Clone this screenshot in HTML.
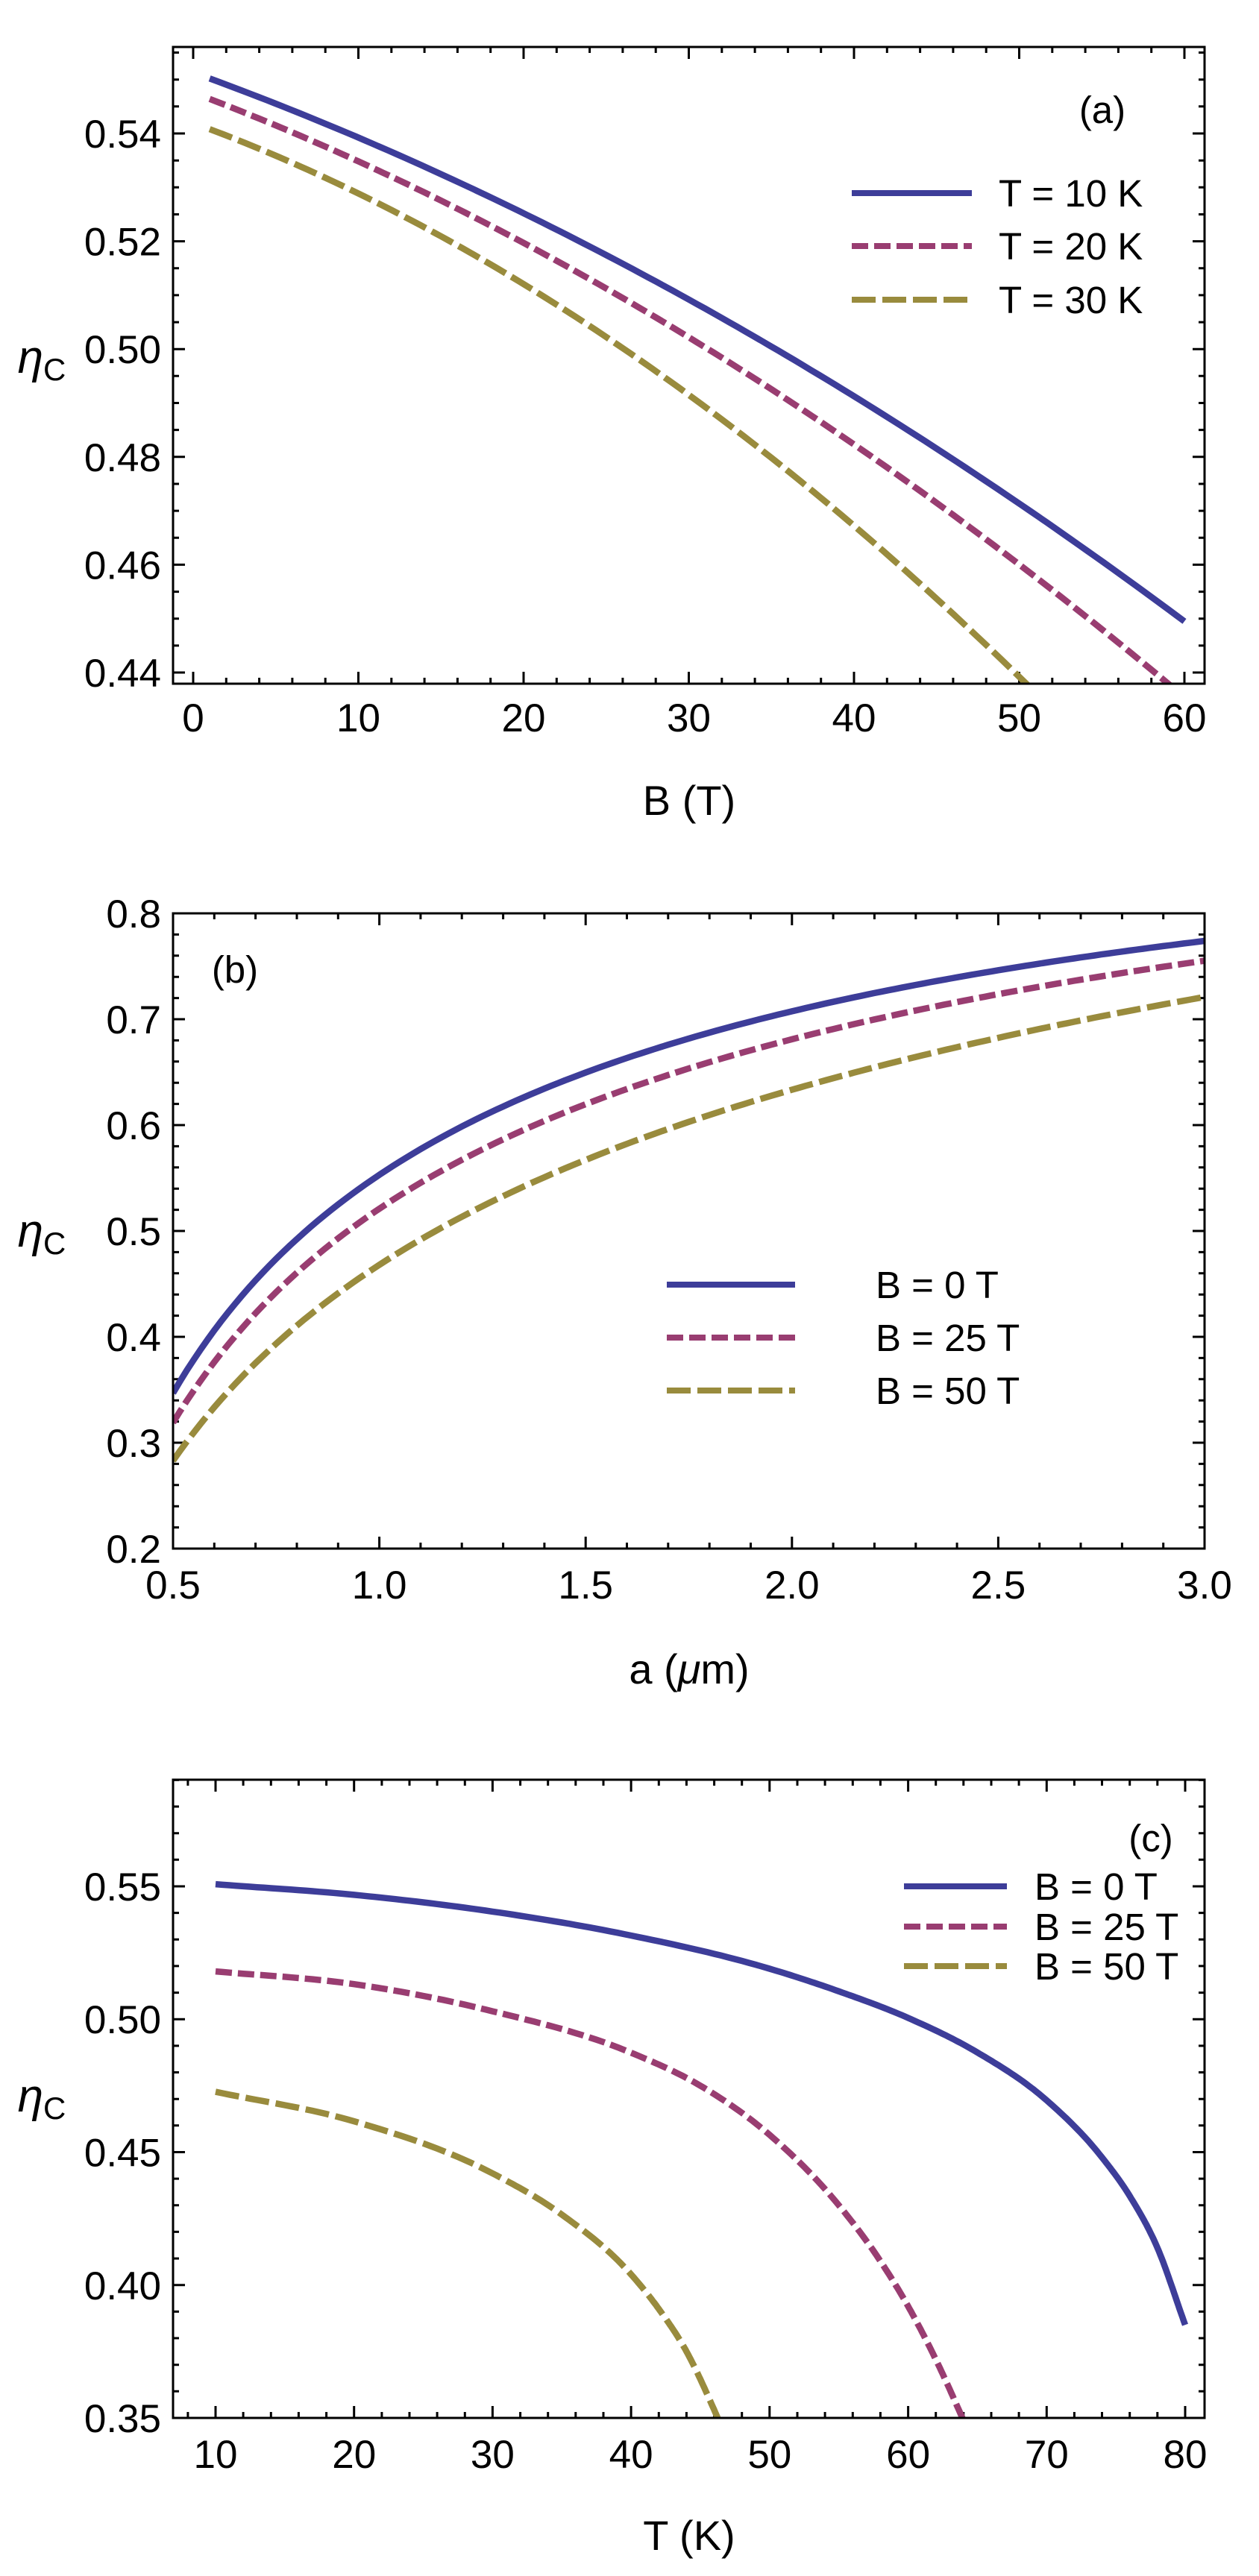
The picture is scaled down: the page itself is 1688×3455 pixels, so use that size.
<!DOCTYPE html>
<html><head><meta charset="utf-8">
<style>
html,body{margin:0;padding:0;background:#fff;}
svg{display:block;}
text{font-family:"Liberation Sans",sans-serif;fill:#000;}
</style></head>
<body>
<svg id="s" width="1688" height="3455" viewBox="0 0 1688 3455" xmlns="http://www.w3.org/2000/svg"></svg>
<script>
var S=document.getElementById('s');var out='';
var BLUE='#3d3d99',RED='#993d71',GOLD='#998b3d';
function hermite(d){
  var n=d.length,m=[],sec=[];
  for(var i=0;i<n-1;i++) sec.push((d[i+1][1]-d[i][1])/(d[i+1][0]-d[i][0]));
  for(var i=0;i<n;i++){
    if(i==0) m.push(sec[0]); else if(i==n-1) m.push(sec[n-2]);
    else {var h0=d[i][0]-d[i-1][0],h1=d[i+1][0]-d[i][0];m.push((sec[i-1]*h1+sec[i]*h0)/(h0+h1));}
  }
  var r=[];
  for(var i=0;i<n-1;i++){
    var h=d[i+1][0]-d[i][0];
    for(var k=0;k<20;k++){var t=k/20,t2=t*t,t3=t2*t;
      var y=(2*t3-3*t2+1)*d[i][1]+(t3-2*t2+t)*h*m[i]+(-2*t3+3*t2)*d[i+1][1]+(t3-t2)*h*m[i+1];
      r.push([d[i][0]+t*h,y]);}
  }
  r.push(d[n-1]);return r;
}
function curve(data,fx,fy,col,dash){
  var pts=data.map(function(p){return fx(p[0]).toFixed(1)+','+fy(p[1]).toFixed(1);});
  out+='<polyline points="'+pts.join(' ')+'" fill="none" stroke="'+col+'" stroke-width="8.5" stroke-linejoin="round"'+(dash?' stroke-dasharray="'+dash+'"':'')+'/>';
}
function fn(f,a,b,n){var r=[];for(var i=0;i<=n;i++){var x=a+(b-a)*i/n;r.push([x,f(x)]);}return r;}
function panel(o){
  var L=232,R=1615,T=o.top,B=o.bot;
  out+='<defs><clipPath id="c'+o.id+'"><rect x="'+L+'" y="'+T+'" width="'+(R-L)+'" height="'+(B-T)+'"/></clipPath></defs>';
  var t='';
  for(var v=o.xmin;v<=o.xmax+1e-9;v+=o.xminor){
    var x=o.fx(v); if(x<L-1||x>R+1) continue;
    var maj=Math.abs(Math.round(v/o.xmajor)*o.xmajor-v)<1e-6;
    var len=maj?16:8;
    t+='M'+x.toFixed(1)+' '+B+'v'+(-len)+'M'+x.toFixed(1)+' '+T+'v'+len;
    if(maj) out+='<text x="'+x.toFixed(1)+'" y="'+o.xlabY+'" font-size="53" text-anchor="middle">'+o.xfmt(v)+'</text>';
  }
  for(var v=o.ymin;v<=o.ymax+1e-9;v+=o.yminor){
    var y=o.fy(v); if(y<T-1||y>B+1) continue;
    var maj=Math.abs(Math.round(v/o.ymajor)*o.ymajor-v)<1e-6;
    var len=maj?16:8;
    t+='M'+L+' '+y.toFixed(1)+'h'+len+'M'+R+' '+y.toFixed(1)+'h'+(-len);
    if(maj) out+='<text x="216" y="'+(y+19).toFixed(1)+'" font-size="53" text-anchor="end">'+o.yfmt(v)+'</text>';
  }
  out+='<path d="'+t+'" stroke="#000" stroke-width="3" fill="none"/>';
  out+='<g clip-path="url(#c'+o.id+')">';
  o.curves.forEach(function(c){curve(c[0],o.fx,o.fy,c[1],c[2]);});
  out+='</g>';
  out+='<rect x="'+L+'" y="'+T+'" width="'+(R-L)+'" height="'+(B-T)+'" fill="none" stroke="#000" stroke-width="3"/>';
  o.leg.forEach(function(l){
    out+='<line x1="'+l[0]+'" x2="'+l[1]+'" y1="'+l[2]+'" y2="'+l[2]+'" stroke="'+l[3]+'" stroke-width="8"'+(l[4]?' stroke-dasharray="'+l[4]+'"':'')+'/>';
    out+='<text x="'+l[5]+'" y="'+(l[2]+18)+'" font-size="51">'+l[6]+'</text>';
  });
  out+='<text x="'+o.pl[0]+'" y="'+o.pl[1]+'" font-size="51" text-anchor="middle">'+o.pl[2]+'</text>';
  out+='<text x="924" y="'+o.axY+'" font-size="56" text-anchor="middle">'+o.ax+'</text>';
  out+='<text x="56" y="'+o.etaY+'" font-size="62" font-style="italic" text-anchor="middle">η<tspan font-size="42" font-style="normal" dy="10">C</tspan></text>';
}
var RD='22 8',GD='32 9';
function q(a,b,c){return function(x){return a+b*x+c*x*x;};}
panel({id:'a',top:63,bot:917,
 fx:function(b){return 259+22.15*b;},fy:function(e){return 179+(0.54-e)*7230;},
 xmin:-2,xmax:62,xminor:2,xmajor:10,ymin:0.435,ymax:0.56,yminor:0.005,ymajor:0.02,
 xfmt:function(v){return Math.round(v);},yfmt:function(v){return v.toFixed(2);},xlabY:981,
 curves:[
  [fn(q(0.55132,-0.001111,-9.77e-6),1,60,120),BLUE,null],
  [fn(q(0.54757,-0.001156,-1.189e-5),1,61,120),RED,RD],
  [fn(q(0.54194,-0.001121,-1.867e-5),1,52,120),GOLD,GD]],
 leg:[[1142,1303,259,BLUE,null,1339,'T = 10 K'],[1142,1303,330,RED,RD,1339,'T = 20 K'],[1142,1303,402,GOLD,GD,1339,'T = 30 K']],
 pl:[1478,165,'(a)'],ax:'B (T)',axY:1093,etaY:500});
function lg(A,B,C){return function(a){var l=Math.log(a);return A+B*l+C*l*l;};}
panel({id:'b',top:1225,bot:2077,
 fx:function(a){return 232+553.2*(a-0.5);},fy:function(e){return 2077-(e-0.2)*1420;},
 xmin:0.5,xmax:3.0,xminor:0.1,xmajor:0.5,ymin:0.2,ymax:0.8,yminor:0.02,ymajor:0.1,
 xfmt:function(v){return v.toFixed(1);},yfmt:function(v){return (Math.round(v*10)/10).toString();},xlabY:2144,
 curves:[
  [fn(lg(0.553,0.2601,-0.0537),0.5,3,150),BLUE,null],
  [fn(lg(0.521,0.2612,-0.0437),0.5,3,150),RED,RD],
  [fn(lg(0.468,0.2528,-0.0205),0.5,3,150),GOLD,GD]],
 leg:[[894,1066,1723,BLUE,null,1174,'B = 0 T'],[894,1066,1794,RED,RD,1174,'B = 25 T'],[894,1066,1865,GOLD,GD,1174,'B = 50 T']],
 pl:[315,1318,'(b)'],ax:'a (<tspan font-style="italic">μ</tspan>m)',axY:2258,etaY:1672});
panel({id:'c',top:2387,bot:3243,
 fx:function(t){return 289+18.571*(t-10);},fy:function(e){return 3243-(e-0.35)*3565;},
 xmin:8,xmax:82,xminor:2,xmajor:10,ymin:0.35,ymax:0.59,yminor:0.01,ymajor:0.05,
 xfmt:function(v){return Math.round(v);},yfmt:function(v){return v.toFixed(2);},xlabY:3310,
 curves:[
  [hermite([[10,.5508],[20,.5468],[30,.5405],[40,.5315],[50,.519],[55,.5105],[60,.5005],[65,.4875],[70,.4695],[74,.448],[76,.4335],[78,.414],[80,.385]]),BLUE,null],
  [hermite([[10,.518],[20,.5132],[30,.503],[40,.4874],[45,.475],[50,.4565],[55,.43],[58,.409],[60,.392],[62,.372],[64,.349],[64.5,.343]]),RED,RD],
  [hermite([[10,.4727],[20,.4616],[30,.442],[35,.4265],[40,.404],[42,.391],[44,.375],[46,.353],[46.5,.347]]),GOLD,GD]],
 leg:[[1212,1350,2530,BLUE,null,1387,'B = 0 T'],[1212,1350,2584,RED,RD,1387,'B = 25 T'],[1212,1350,2637,GOLD,GD,1387,'B = 50 T']],
 pl:[1543,2483,'(c)'],ax:'T (K)',axY:3420,etaY:2832});
S.innerHTML=out;
</script>
</body></html>
